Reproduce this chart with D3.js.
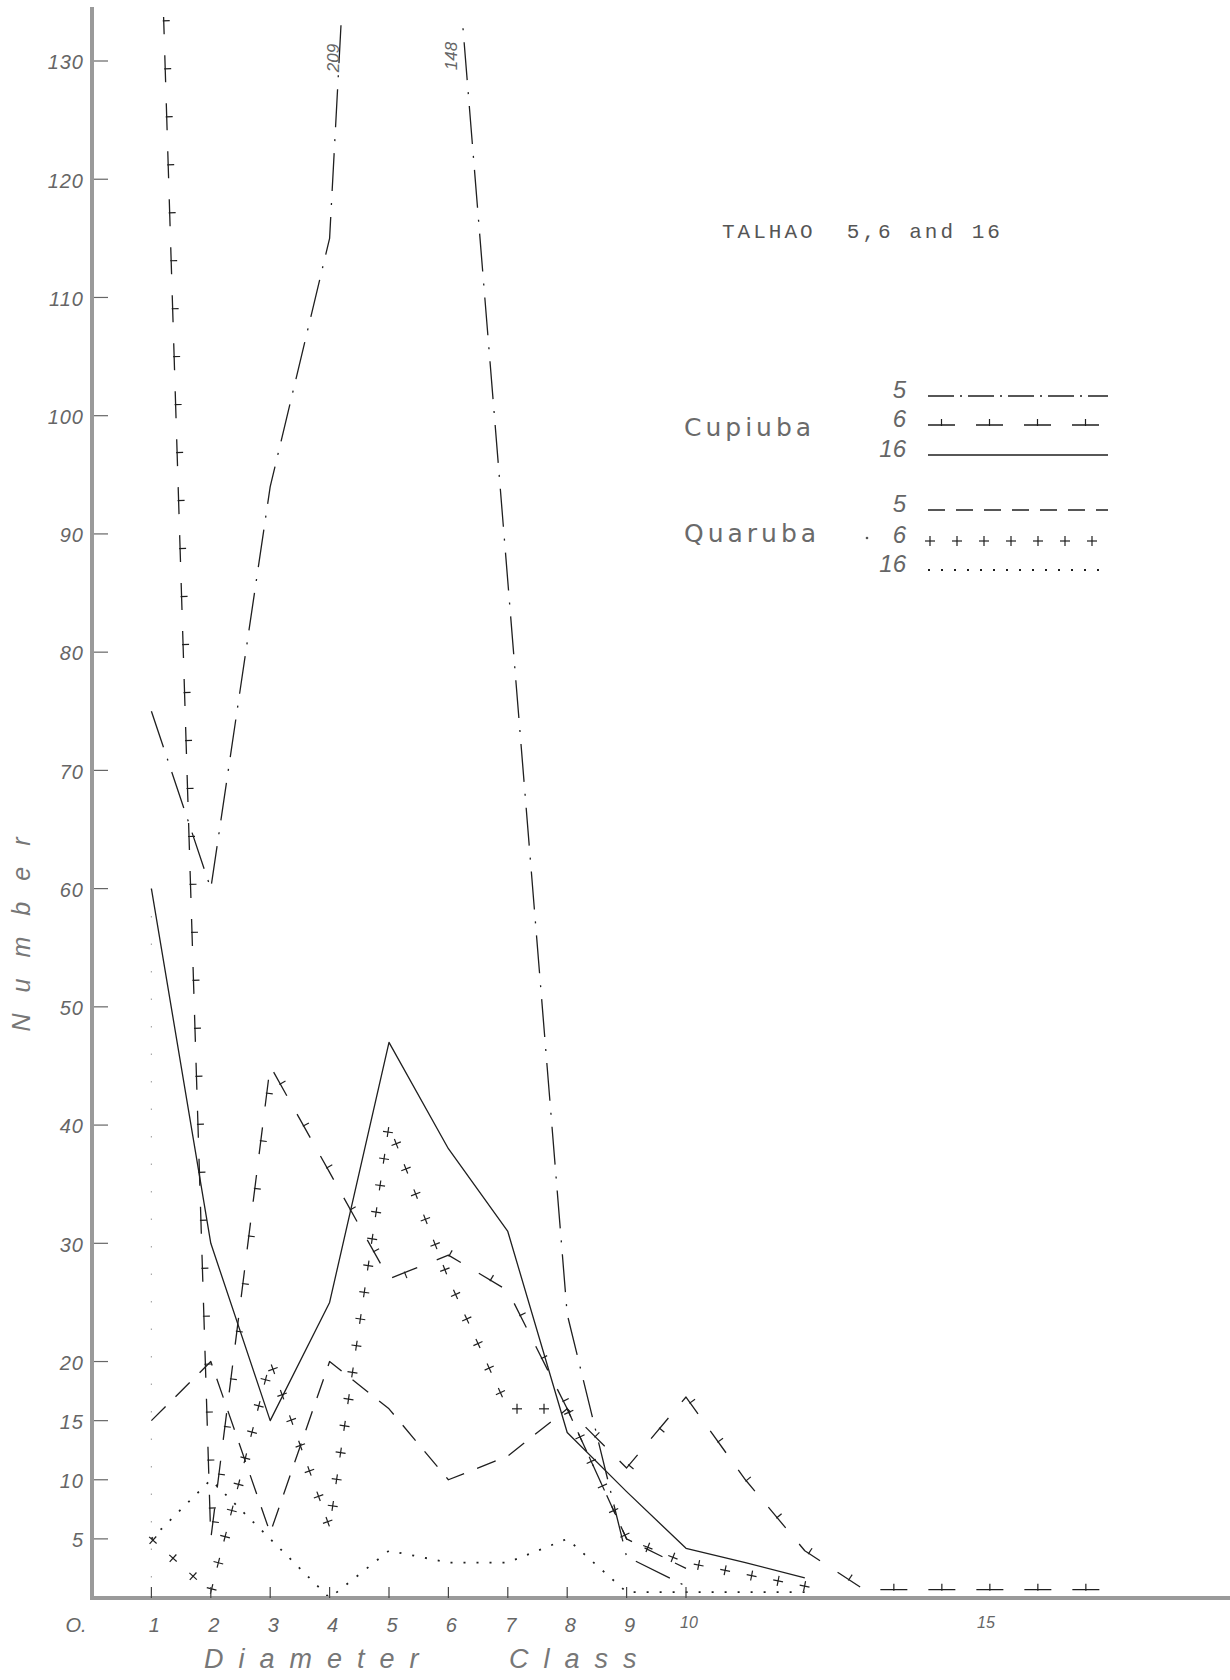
<!DOCTYPE html>
<html>
<head>
<meta charset="utf-8">
<script src="https://cdn.jsdelivr.net/npm/d3@7"></script>
<style>
  body { margin: 0; background: #fff; }
  svg { display: block; }
  .hand { font-family: "Liberation Sans", "DejaVu Sans", sans-serif; font-style: italic; fill: #666; }
</style>
</head>
<body>
<div id="vis"></div>
<script>
// diameter classes and counts per talhao
const classes = [1, 2, 3, 4, 5, 6, 7, 8, 9, 10, 11, 12, 13, 14, 15, 16, 17];

const cupiuba5  = [75, 60, 94, 115, 209, 148, 86, 24, 3.5, 1];
const cupiuba6  = [167, 5, 45, 36, 27, 29, 26, 16, 11, 17, 10, 4, 0.7, 0.7, 0.7, 0.7, 0.7];
const cupiuba16 = [60, 30, 15, 25, 47, 38, 31, 14, 9, 4.2, 3, 1.7];
const quaruba5  = [15, 20, 5.5, 20, 16, 10, 12, 16, 5, 2.5];
const quaruba6  = [5, 0.5, 20, 6, 40, 27, 16, 16, 5, 3, 2, 1];
const quaruba16 = [5, 10, 5, 0, 4, 3, 3, 5, 0.5, 0.5, 0.5, 0.5];

const yTicks = [5, 10, 15, 20, 30, 40, 50, 60, 70, 80, 90, 100, 110, 120, 130];
const xTicks = [1, 2, 3, 4, 5, 6, 7, 8, 9, 10];
const xLabels = ["O.", "1", "2", "3", "4", "5", "6", "7", "8", "9", "10", "15"];
const xLabelValues = [0, 1, 2, 3, 4, 5, 6, 7, 8, 9, 10, 15];

const W = 1230, H = 1680;
const ink = "#1f1f1f";

let svg = d3.select("#vis").append("svg")
  .attr("width", W).attr("height", H)
  .style("background-color", "white");

let x = d3.scaleLinear().domain([0, 15]).range([92, 983]);
let y = d3.scaleLinear().domain([0, 130]).range([1598, 61]);

// line styles
const styles = {
  c5:  { dash: "38,12,2,12" },
  c6:  { dash: "27,21", ticks: { start: 13.5, step: 48 } },
  c16: {},
  q5:  { dash: "20,14" },
  q6:  { hide: true, cross: { start: 2, step: 27 } },
  q16: { dash: "2,11", width: 1.8 }
};

// draws a path string with one of the hand styles
function drawStyled(g, d, st) {
  let p = g.append("path")
    .attr("d", d)
    .attr("fill", "none")
    .attr("stroke", st.hide ? "none" : ink)
    .attr("stroke-width", st.width || 1.3)
    .attr("stroke-linejoin", "round");
  if (st.dash) p.attr("stroke-dasharray", st.dash);
  let node = p.node(), L = node.getTotalLength();
  let marks = st.ticks || st.cross;
  if (!marks) return;
  for (let s = marks.start; s <= L; s += marks.step) {
    let a = node.getPointAtLength(Math.max(0, s - 1));
    let b = node.getPointAtLength(Math.min(L, s + 1));
    let c = node.getPointAtLength(s);
    let tx = b.x - a.x, ty = b.y - a.y, n = Math.hypot(tx, ty) || 1;
    tx /= n; ty /= n;
    let nx = ty, ny = -tx;
    if (nx < -0.05 || (Math.abs(nx) <= 0.05 && ny > 0)) { nx = -nx; ny = -ny; }
    if (st.ticks) {
      g.append("line")
        .attr("x1", c.x - nx * 1).attr("y1", c.y - ny * 1)
        .attr("x2", c.x + nx * 6).attr("y2", c.y + ny * 6)
        .attr("stroke", ink).attr("stroke-width", 1.2);
    } else {
      g.append("line")
        .attr("x1", c.x - tx * 5).attr("y1", c.y - ty * 5)
        .attr("x2", c.x + tx * 5).attr("y2", c.y + ty * 5)
        .attr("stroke", ink).attr("stroke-width", 1.2);
      g.append("line")
        .attr("x1", c.x - nx * 5).attr("y1", c.y - ny * 5)
        .attr("x2", c.x + nx * 5).attr("y2", c.y + ny * 5)
        .attr("stroke", ink).attr("stroke-width", 1.2);
    }
  }
}

svg.append("clipPath").attr("id", "plotclip")
  .append("rect").attr("x", 92).attr("y", 17).attr("width", W - 92).attr("height", 1585);

// faint pencil guide at class 1
svg.append("line")
  .attr("x1", x(1)).attr("x2", x(1))
  .attr("y1", y(60)).attr("y2", y(0))
  .attr("stroke", "#aaa").attr("stroke-width", 1.2)
  .attr("stroke-dasharray", "1.5,26");

let plot = svg.append("g").attr("clip-path", "url(#plotclip)");
let line = d3.line().x(d => x(d[0])).y(d => y(d[1]));
function pts(vals) { return vals.map((v, i) => [classes[i], v]); }

drawStyled(plot, line(pts(cupiuba5)), styles.c5);
drawStyled(plot, line(pts(cupiuba6)), styles.c6);
drawStyled(plot, line(pts(cupiuba16)), styles.c16);
drawStyled(plot, line(pts(quaruba5)), styles.q5);
drawStyled(plot, line(pts(quaruba6)), styles.q6);
drawStyled(plot, line(pts(quaruba16)), styles.q16);

// values running off the top
svg.append("text").attr("class", "hand")
  .attr("transform", `translate(${x(5) - 56},${58}) rotate(-90)`)
  .attr("text-anchor", "middle").attr("dy", "0.35em")
  .style("font-size", "17px").text(cupiuba5[4]);
svg.append("text").attr("class", "hand")
  .attr("transform", `translate(${x(6) + 3},${56}) rotate(-90)`)
  .attr("text-anchor", "middle").attr("dy", "0.35em")
  .style("font-size", "17px").text(cupiuba5[5]);

// axes
svg.append("line")
  .attr("x1", 92).attr("x2", 92).attr("y1", 7).attr("y2", y(0) + 2)
  .attr("stroke", "#9a9a9a").attr("stroke-width", 4);
svg.append("line")
  .attr("x1", 90).attr("x2", W).attr("y1", y(0)).attr("y2", y(0))
  .attr("stroke", "#9a9a9a").attr("stroke-width", 4);

svg.selectAll(".ytick").data(yTicks).enter().append("line")
  .attr("x1", 94).attr("x2", 108)
  .attr("y1", d => y(d)).attr("y2", d => y(d))
  .attr("stroke", "#666").attr("stroke-width", 1.2);
svg.selectAll(".ylab").data(yTicks).enter().append("text")
  .attr("class", "hand")
  .attr("x", 84).attr("y", d => y(d) + 3)
  .attr("text-anchor", "end").attr("dominant-baseline", "middle")
  .style("font-size", "20px").style("letter-spacing", "1px")
  .text(d => d);

svg.selectAll(".xtick").data(xTicks).enter().append("line")
  .attr("x1", d => x(d)).attr("x2", d => x(d))
  .attr("y1", y(0) - 11).attr("y2", y(0))
  .attr("stroke", "#444").attr("stroke-width", 1.2);
svg.selectAll(".xlab").data(xLabelValues).enter().append("text")
  .attr("class", "hand")
  .attr("x", d => d === 0 ? x(0) - 16 : x(d) + 3)
  .attr("y", (d, i) => d >= 10 ? 1628 : 1632)
  .attr("text-anchor", "middle")
  .style("font-size", d => d >= 10 ? "16px" : "20px")
  .text((d, i) => xLabels[i]);

// axis titles
svg.append("text").attr("class", "hand")
  .attr("transform", "translate(30,924) rotate(-90)")
  .attr("text-anchor", "middle")
  .style("font-size", "25px").style("letter-spacing", "21px").style("fill", "#777")
  .text("Number");
svg.append("text").attr("class", "hand")
  .attr("x", 204).attr("y", 1668)
  .style("font-size", "27px").style("letter-spacing", "15px").style("fill", "#777")
  .text("Diameter");
svg.append("text").attr("class", "hand")
  .attr("x", 509).attr("y", 1668)
  .style("font-size", "27px").style("letter-spacing", "15px").style("fill", "#777")
  .text("Class");

// title and legend
svg.append("text")
  .attr("x", 722).attr("y", 238)
  .attr("xml:space", "preserve")
  .style("font-family", "'Liberation Mono', 'DejaVu Sans Mono', monospace")
  .style("font-size", "21px").style("letter-spacing", "3px").style("fill", "#555")
  .text("TALHAO  5,6 and 16");

const groups = [
  { name: "Cupiuba", y: 436, items: [["5", 398, styles.c5, "26,6,2,6"], ["6", 427, styles.c6], ["16", 457, styles.c16]] },
  { name: "Quaruba", y: 542, items: [["5", 512, styles.q5, "17,11"], ["6", 543, styles.q6], ["16", 572, styles.q16]] }
];
let lg = svg.append("g");
groups.forEach(gr => {
  lg.append("text")
    .attr("x", 684).attr("y", gr.y)
    .style("font-family", "'DejaVu Sans', sans-serif")
    .style("font-size", "25px").style("letter-spacing", "4px").style("fill", "#6a6a6a")
    .text(gr.name);
  gr.items.forEach(it => {
    lg.append("text").attr("class", "hand")
      .attr("x", 906).attr("y", it[1])
      .attr("text-anchor", "end")
      .style("font-size", "24px").style("fill", "#666")
      .text(it[0]);
    let st = Object.assign({}, it[2]);
    if (it[3]) st.dash = it[3];
    drawStyled(lg, d3.line()([[928, it[1] - 2], [1108, it[1] - 2]]), st);
  });
});
svg.append("circle").attr("cx", 867).attr("cy", 538).attr("r", 1.3).attr("fill", "#555");
</script>
</body>
</html>
